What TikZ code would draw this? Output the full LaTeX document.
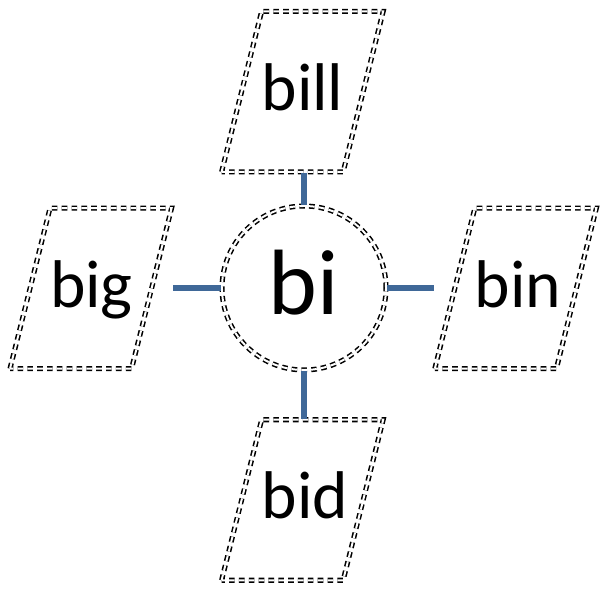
\documentclass[tikz,border=0pt]{standalone}
\usepackage{fontspec}
\setmainfont{Carlito}
\usetikzlibrary{positioning,shapes.geometric}
\definecolor{linkblue}{RGB}{63,104,152}

\begin{document}
\begin{tikzpicture}[
  ring/.style={draw, double, dashed, line width=1.1pt, double distance=1.4pt,
    dash pattern=on 4pt off 3pt},
  word/.style={ring, trapezium, trapezium left angle=76, trapezium right angle=104,
    text width=58pt, align=center, inner xsep=0pt, inner ysep=34.6pt,
    font=\fontsize{48}{50}\selectfont, text height=36pt, text depth=9pt},
  root/.style={ring, circle, minimum size=4.1cm, inner sep=0pt,
    font=\fontsize{66}{68}\selectfont, text height=49pt, text depth=11pt},
  link/.style={draw=linkblue, line width=4pt}
]
\useasboundingbox (0,0) rectangle (15,14.75);

% nodes
\node [root] (bi) at (7.6, 7.55) {bi};
\node [word] (bill) at (7.56, 12.46) {bill};
\node [word] (bid) at (7.56, 2.25) {bid};
\node [word] (big) at (2.27, 7.54) {big};
\node [word] (bin) at (12.89, 7.54) {bin};

% lines
\draw [link] (bi.north) -- (bi.north |- bill.south);
\draw [link] (bi.south) -- (bi.south |- bid.north);
\draw [link] (bi.west) -- (bi.west -| big.top right corner);
\draw [link] (bi.east) -- (bi.east -| bin.bottom left corner);

\end{tikzpicture}
\end{document}
